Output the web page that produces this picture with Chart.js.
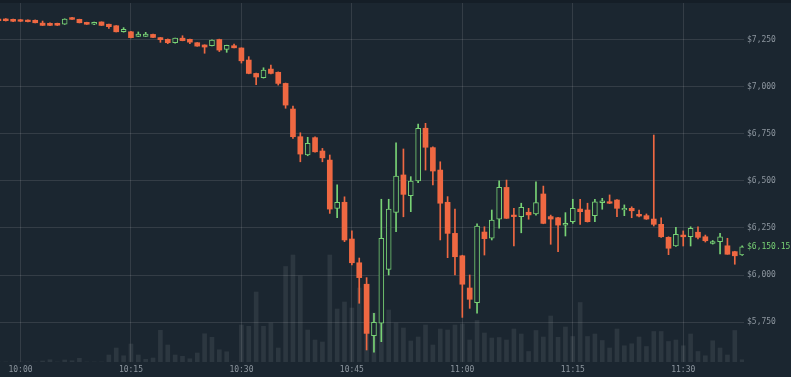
<!DOCTYPE html>
<html>
<head>
<meta charset="utf-8">
<title>BTC 1m</title>
<script src="https://cdn.jsdelivr.net/npm/chart.js@4.4.0/dist/chart.umd.min.js"></script>
<style>
  html, body { margin: 0; padding: 0; background: #1b2630; }
  #wrap { position: relative; width: 791px; height: 377px; }
</style>
</head>
<body>
<div id="wrap"><canvas id="chart"></canvas></div>
<script>
// one candle per minute, 09:57 -> 11:38
const times = [
  "09:57","09:58","09:59","10:00","10:01","10:02","10:03","10:04","10:05","10:06",
  "10:07","10:08","10:09","10:10","10:11","10:12","10:13","10:14","10:15","10:16",
  "10:17","10:18","10:19","10:20","10:21","10:22","10:23","10:24","10:25","10:26",
  "10:27","10:28","10:29","10:30","10:31","10:32","10:33","10:34","10:35","10:36",
  "10:37","10:38","10:39","10:40","10:41","10:42","10:43","10:44","10:45","10:46",
  "10:47","10:48","10:49","10:50","10:51","10:52","10:53","10:54","10:55","10:56",
  "10:57","10:58","10:59","11:00","11:01","11:02","11:03","11:04","11:05","11:06",
  "11:07","11:08","11:09","11:10","11:11","11:12","11:13","11:14","11:15","11:16",
  "11:17","11:18","11:19","11:20","11:21","11:22","11:23","11:24","11:25","11:26",
  "11:27","11:28","11:29","11:30","11:31","11:32","11:33","11:34","11:35","11:36",
  "11:37","11:38"
];

const opens = [
  7359, 7359, 7357, 7355, 7353, 7352, 7337, 7336, 7336, 7332,
  7366, 7357, 7341, 7331, 7343, 7331, 7323, 7291, 7291, 7266,
  7267, 7277, 7260, 7251, 7233, 7257, 7251, 7233, 7221, 7217,
  7250, 7198, 7217, 7205, 7141, 7070, 7047, 7093, 7076, 7017,
  6881, 6734, 6637, 6729, 6658, 6610, 6354, 6386, 6191, 6065,
  5951, 5678, 5744, 6030, 6332, 6531, 6421, 6500, 6779, 6676,
  6557, 6386, 6221, 6102, 5931, 5853, 6228, 6195, 6296, 6465,
  6318, 6310, 6333, 6324, 6430, 6310, 6304, 6265, 6283, 6350,
  6345, 6315, 6384, 6389, 6398, 6345, 6354, 6322, 6315, 6297,
  6269, 6200, 6155, 6212, 6203, 6227, 6203, 6168, 6177, 6155,
  6124, 6106
];

const highs = [
  7362, 7361, 7359, 7357, 7355, 7354, 7348, 7338, 7337, 7360,
  7368, 7358, 7342, 7342, 7344, 7332, 7324, 7313, 7293, 7290,
  7288, 7279, 7261, 7253, 7258, 7270, 7252, 7234, 7222, 7248,
  7252, 7220, 7226, 7206, 7159, 7072, 7100, 7114, 7078, 7019,
  6897, 6755, 6731, 6734, 6672, 6637, 6478, 6415, 6234, 6090,
  5986, 5797, 6402, 6402, 6702, 6669, 6522, 6801, 6805, 6680,
  6601, 6416, 6350, 6105, 6000, 6272, 6256, 6345, 6500, 6504,
  6354, 6381, 6354, 6495, 6472, 6318, 6306, 6331, 6402, 6402,
  6381, 6402, 6407, 6425, 6400, 6372, 6362, 6345, 6324, 6743,
  6304, 6203, 6253, 6234, 6256, 6256, 6212, 6183, 6221, 6195,
  6126, 6155
];

const lows = [
  7349, 7348, 7345, 7345, 7343, 7338, 7324, 7324, 7324, 7330,
  7356, 7338, 7330, 7329, 7324, 7309, 7290, 7289, 7258, 7265,
  7266, 7260, 7235, 7228, 7231, 7243, 7228, 7214, 7177, 7216,
  7186, 7182, 7205, 7125, 7068, 7010, 7045, 7068, 7008, 6885,
  6725, 6601, 6633, 6652, 6601, 6327, 6304, 6177, 6053, 5850,
  5602, 5590, 5646, 6000, 6230, 6309, 6336, 6490, 6557, 6478,
  6186, 6092, 6000, 5775, 5823, 5798, 6106, 6186, 6248, 6300,
  6154, 6224, 6296, 6318, 6272, 6163, 6124, 6207, 6274, 6269,
  6281, 6283, 6349, 6379, 6310, 6315, 6304, 6308, 6295, 6260,
  6200, 6108, 6152, 6154, 6154, 6191, 6175, 6164, 6112, 6110,
  6057, 6104
];

const closes = [
  7350, 7350, 7347, 7347, 7345, 7339, 7325, 7325, 7326, 7359,
  7357, 7339, 7331, 7341, 7325, 7318, 7291, 7304, 7260, 7279,
  7279, 7261, 7249, 7233, 7257, 7244, 7236, 7215, 7210, 7247,
  7194, 7219, 7206, 7137, 7070, 7051, 7088, 7070, 7017, 6902,
  6734, 6642, 6699, 6654, 6622, 6350, 6386, 6186, 6065, 5986,
  5690, 5749, 6195, 6350, 6525, 6428, 6499, 6779, 6678, 6552,
  6381, 6221, 6097, 5951, 5871, 6260, 6193, 6292, 6465, 6301,
  6310, 6359, 6319, 6384, 6274, 6297, 6265, 6274, 6354, 6336,
  6283, 6389, 6394, 6381, 6354, 6354, 6341, 6313, 6297, 6269,
  6203, 6142, 6216, 6203, 6248, 6200, 6182, 6177, 6203, 6110,
  6102, 6150.15
];

const volumes = [
  0, 0, 0, 0, 0, 0, 4, 9, 0, 8,
  5, 15, 0, 0, 0, 28, 56, 25, 72, 28,
  11, 16, 127, 68, 28, 23, 13, 36, 113, 99,
  49, 41, 0, 148, 143, 280, 143, 156, 56, 382,
  428, 344, 128, 88, 80, 428, 212, 240, 216, 296,
  200, 196, 208, 208, 156, 136, 84, 100, 148, 68,
  132, 128, 148, 152, 88, 166, 116, 96, 98, 88,
  132, 112, 42, 126, 100, 184, 99, 140, 102, 238,
  102, 112, 86, 56, 132, 65, 73, 100, 62, 122,
  122, 82, 88, 65, 112, 42, 25, 85, 56, 28,
  126, 9
];

const xTickLabels = ["10:00", "10:15", "10:30", "10:45", "11:00", "11:15", "11:30"];
const yTickValues = [5750, 6000, 6250, 6500, 6750, 7000, 7250];
const lastPrice = 6150.15;

const UP = "#78d275";
const DOWN = "#ef6842";
const BG = "#1b2630";
const GRID = "rgba(255, 255, 255, 0.11)";
const TEXT = "#8d969f";
const FONT = { family: "'DejaVu Sans Mono', monospace", size: 8 };

// minutes since 10:00
function toMinutes(t) {
  const [h, m] = t.split(":").map(Number);
  return (h - 10) * 60 + m;
}

const isUp = (i) => closes[i] >= opens[i];

const bodies = times.map((t, i) => ({ x: toMinutes(t), y: [opens[i], closes[i]] }));
const wicks = times.map((t, i) => ({ x: toMinutes(t), y: [lows[i], highs[i]] }));
const vols = times.map((t, i) => ({ x: toMinutes(t), y: volumes[i] }));

const background = {
  id: "background",
  beforeDraw(chart) {
    const c = chart.ctx;
    c.save();
    c.fillStyle = BG;
    c.fillRect(0, 0, chart.width, chart.height);
    c.fillStyle = "#151e27";
    c.fillRect(0, 0, chart.width, 3);
    c.restore();
  }
};

// green price tag for the last close
const lastTag = {
  id: "lastTag",
  afterDraw(chart) {
    const c = chart.ctx;
    const y = chart.scales.y.getPixelForValue(lastPrice);
    c.save();
    c.font = "8px 'DejaVu Sans Mono', monospace";
    c.fillStyle = UP;
    c.textBaseline = "middle";
    c.textAlign = "left";
    c.fillText("$" + lastPrice.toLocaleString("en-US", { minimumFractionDigits: 2 }), chart.chartArea.right + 3, y);
    c.restore();
  }
};

new Chart(document.getElementById("chart"), {
  type: "bar",
  data: {
    datasets: [
      {
        label: "body",
        data: bodies,
        yAxisID: "y",
        order: 1,
        grouped: false,
        barThickness: 5,
        minBarLength: 1,
        borderSkipped: false,
        clip: 0,
        backgroundColor: (ctx) => (isUp(ctx.dataIndex) ? BG : DOWN),
        borderColor: (ctx) => (isUp(ctx.dataIndex) ? UP : DOWN),
        borderWidth: (ctx) => (isUp(ctx.dataIndex) ? 1 : 0)
      },
      {
        label: "wick",
        data: wicks,
        yAxisID: "y",
        order: 2,
        grouped: false,
        barThickness: 1,
        clip: 0,
        backgroundColor: (ctx) => (isUp(ctx.dataIndex) ? UP : DOWN)
      },
      {
        label: "volume",
        data: vols,
        yAxisID: "yv",
        order: 3,
        grouped: false,
        barThickness: 4,
        backgroundColor: "rgba(255, 255, 255, 0.08)"
      }
    ]
  },
  options: {
    responsive: true,
    maintainAspectRatio: false,
    animation: false,
    layout: { padding: { top: 3, left: 0, right: 0, bottom: 0 } },
    plugins: {
      legend: { display: false },
      tooltip: { enabled: false }
    },
    scales: {
      x: {
        type: "linear",
        offset: false,
        min: -2.784,
        max: 98.25,
        afterBuildTicks: (s) => { s.ticks = xTickLabels.map((l) => ({ value: toMinutes(l) })); },
        afterFit: (s) => {
          s.height = 15;
          s.paddingLeft = 0;
          s.paddingRight = 0;
        },
        ticks: {
          color: TEXT,
          font: FONT,
          padding: 3,
          maxRotation: 0,
          autoSkip: false,
          callback: (v, i) => xTickLabels[i]
        },
        grid: { color: GRID, drawTicks: false, offset: false },
        border: { display: false }
      },
      y: {
        position: "right",
        min: 5538.2,
        max: 7443.8,
        afterBuildTicks: (s) => { s.ticks = yTickValues.map((v) => ({ value: v })); },
        afterFit: (s) => {
          s.width = 47;
          s.paddingTop = 0;
          s.paddingBottom = 0;
        },
        ticks: {
          color: TEXT,
          font: FONT,
          padding: 3,
          callback: (v) => "$" + v.toLocaleString("en-US")
        },
        grid: { color: GRID, drawTicks: false },
        border: { display: false }
      },
      yv: {
        display: false,
        min: 0,
        max: 1436
      }
    }
  },
  plugins: [background, lastTag]
});
</script>
</body>
</html>
